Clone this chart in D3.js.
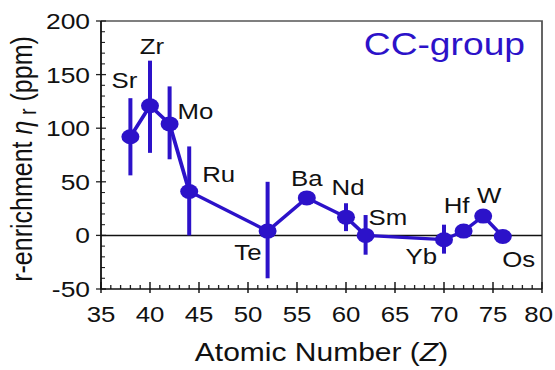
<!DOCTYPE html>
<html lang="en">
  <head>
    <meta charset="utf-8">
    <title>r-enrichment, CC-group</title>
    <style type="text/css">
html, body { margin: 0; padding: 0; background: #fff; }
svg { display: block; }
text { font-family: "Liberation Sans", Arial, sans-serif; fill: #111; }
    </style>
  </head>
  <body>
    <div id="chart"></div>

    <script src="https://cdn.jsdelivr.net/npm/d3@7"></script>
    <script>
      // data
      var elements = ["Sr", "Zr", "Mo", "Ru", "Te", "Ba", "Nd", "Sm", "Yb", "Hf", "W", "Os"];
      var atomicNumber = [38, 40, 42, 44, 52, 56, 60, 62, 70, 72, 74, 76];
      var eta = [92, 121, 104, 41, 4, 35, 17, 0, -4, 4, 18, -1];
      var errLow = [56, 77, 71, 0, -40, null, 4, -18, -17, null, null, null];
      var errHigh = [128, 163, 139, 83, 50, null, 30, 19, 10, null, null, null];

      var xTicks = [35, 40, 45, 50, 55, 60, 65, 70, 75, 80];
      var yTicks = [-50, 0, 50, 100, 150, 200];

      // where each element name sits relative to its point (screen px)
      var labelPos = [
        ["middle", -6, -49], ["middle", 2, -52], ["start", 8, -5], ["start", 13, -9],
        ["end", -6, 29], ["middle", 0, -12], ["middle", 2, -22], ["start", 3, -10],
        ["end", -7, 24], ["middle", -7, -18], ["middle", 6, -13], ["middle", 16, 31]
      ];

      var blue = "#2c12c9";
      var W = 555, H = 370;
      var sx = 1.2; // the original figure is stretched sideways
      var vw = W / sx;

      var data = elements.map(function(e, i) {
        return {name: e, z: atomicNumber[i], v: eta[i], lo: errLow[i], hi: errHigh[i], lp: labelPos[i]};
      });

      var svg = d3.select("#chart").append("svg")
          .attr("width", W)
          .attr("height", H)
          .attr("viewBox", "0 0 " + vw + " " + H)
          .attr("preserveAspectRatio", "none");

      var x = d3.scaleLinear().domain([35, 80]).range([101 / sx, 542 / sx]);
      var y = d3.scaleLinear().domain([-50, 200]).range([289, 21]);

      var x0 = x.range()[0], x1 = x.range()[1];
      var yb = y.range()[0], yt = y.range()[1];

      // frame: top and right in grey
      svg.append("path")
          .attr("d", "M" + x0 + "," + yt + "H" + x1 + "V" + yb)
          .attr("fill", "none")
          .attr("stroke", "#555")
          .attr("stroke-width", 1.5);

      // minor ticks
      svg.append("g").selectAll("line")
        .data(d3.range(35, 81, 1).filter(function(d) { return d % 5 != 0; }))
        .enter().append("line")
          .attr("x1", function(d) { return x(d); })
          .attr("x2", function(d) { return x(d); })
          .attr("y1", yb)
          .attr("y2", yb - 4)
          .attr("stroke", "#222")
          .attr("stroke-width", 1.1);

      svg.append("g").selectAll("line")
        .data(d3.range(-50, 201, 10).filter(function(d) { return d % 50 != 0; }))
        .enter().append("line")
          .attr("x1", x0)
          .attr("x2", x0 + 4 / sx)
          .attr("y1", function(d) { return y(d); })
          .attr("y2", function(d) { return y(d); })
          .attr("stroke", "#222")
          .attr("stroke-width", 1.1);

      // major ticks cross the axis
      svg.append("g").selectAll("line")
        .data(xTicks)
        .enter().append("line")
          .attr("x1", function(d) { return x(d); })
          .attr("x2", function(d) { return x(d); })
          .attr("y1", yb + 4)
          .attr("y2", yb - 7)
          .attr("stroke", "#222")
          .attr("stroke-width", 1.3);

      svg.append("g").selectAll("line")
        .data(yTicks)
        .enter().append("line")
          .attr("x1", x0 - 5 / sx)
          .attr("x2", x0 + 5 / sx)
          .attr("y1", function(d) { return y(d); })
          .attr("y2", function(d) { return y(d); })
          .attr("stroke", "#222")
          .attr("stroke-width", 1.3);

      // tick labels; keep the last one inside the window
      svg.append("g").selectAll("text")
        .data(xTicks)
        .enter().append("text")
          .attr("y", 322)
          .attr("text-anchor", "middle")
          .attr("font-size", 21.5)
          .text(function(d) { return d; })
          .attr("x", function(d) {
            var half = this.getComputedTextLength() / 2;
            return Math.min(x(d), (W - 2) / sx - half);
          });

      svg.append("g").selectAll("text")
        .data(yTicks)
        .enter().append("text")
          .attr("x", x0 - 11 / sx)
          .attr("y", function(d) { return y(d) + 8; })
          .attr("text-anchor", "end")
          .attr("font-size", 22)
          .text(function(d) { return d; });

      // axes lines
      svg.append("path")
          .attr("d", "M" + x0 + "," + yt + "V" + yb + "H" + x1)
          .attr("fill", "none")
          .attr("stroke", "#111")
          .attr("stroke-width", 1.5);

      // zero line
      svg.append("line")
          .attr("x1", x0).attr("x2", x1)
          .attr("y1", y(0)).attr("y2", y(0))
          .attr("stroke", "#111")
          .attr("stroke-width", 1.5);

      // error bars
      svg.append("g").selectAll("line")
        .data(data.filter(function(d) { return d.lo != null; }))
        .enter().append("line")
          .attr("x1", function(d) { return x(d.z); })
          .attr("x2", function(d) { return x(d.z); })
          .attr("y1", function(d) { return y(d.lo); })
          .attr("y2", function(d) { return y(d.hi); })
          .attr("stroke", blue)
          .attr("stroke-width", 4 / sx);

      // connecting line
      var line = d3.line()
          .x(function(d) { return x(d.z); })
          .y(function(d) { return y(d.v); });

      svg.append("path")
          .datum(data)
          .attr("d", line)
          .attr("fill", "none")
          .attr("stroke", blue)
          .attr("stroke-width", 3.2)
          .attr("stroke-linejoin", "round");

      svg.append("g").selectAll("circle")
        .data(data)
        .enter().append("circle")
          .attr("cx", function(d) { return x(d.z); })
          .attr("cy", function(d) { return y(d.v); })
          .attr("r", 7.5)
          .attr("fill", blue);

      // element names
      svg.append("g").selectAll("text")
        .data(data)
        .enter().append("text")
          .attr("x", function(d) { return x(d.z) + d.lp[1] / sx; })
          .attr("y", function(d) { return y(d.v) + d.lp[2]; })
          .attr("text-anchor", function(d) { return d.lp[0]; })
          .attr("font-size", 21.5)
          .text(function(d) { return d.name; });

      svg.append("text")
          .attr("x", 525 / sx)
          .attr("y", 55.5)
          .attr("text-anchor", "end")
          .attr("font-size", 31)
          .style("fill", blue)
          .text("CC-group");

      // axis titles
      var xt = svg.append("text")
          .attr("x", (x0 + x1) / 2)
          .attr("y", 361)
          .attr("text-anchor", "middle")
          .attr("font-size", 25);
      xt.append("tspan").text("Atomic Number (");
      xt.append("tspan").attr("font-style", "italic").text("Z");
      xt.append("tspan").text(")");

      var yTitle = svg.append("text")
          .attr("transform", "translate(" + (32 / sx) + "," + ((yt + yb) / 2 + 4) + ") rotate(-90)")
          .attr("text-anchor", "middle")
          .attr("font-size", 25);
      yTitle.append("tspan").text("r-enrichment ");
      yTitle.append("tspan").attr("font-style", "italic").text("\u03b7");
      yTitle.append("tspan").attr("font-size", 20).attr("dy", 3).text(" r");
      yTitle.append("tspan").attr("dy", -3).text(" (ppm)");
    </script>
  </body>
</html>
